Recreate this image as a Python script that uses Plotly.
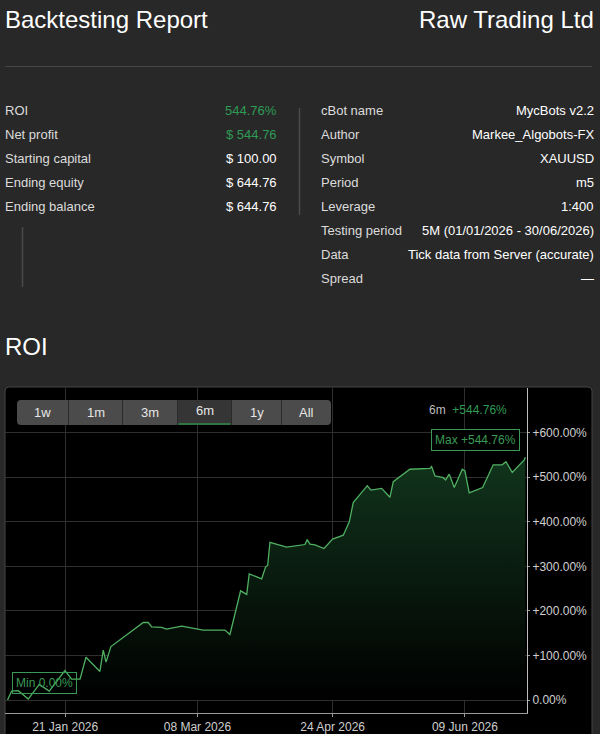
import plotly.graph_objects as go

W, H = 600, 734

# ---------------- data ----------------
dates = [
    "2026-01-01 00:00", "2026-01-01 05:00", "2026-01-02 10:00", "2026-01-04 17:00",
    "2026-01-08 04:00", "2026-01-12 00:00", "2026-01-15 11:00", "2026-01-20 22:00",
    "2026-01-23 06:00", "2026-01-26 04:00", "2026-01-28 06:00", "2026-02-02 02:00",
    "2026-02-03 06:00", "2026-02-04 05:00", "2026-02-05 22:00", "2026-02-17 04:00",
    "2026-02-18 21:00", "2026-02-20 02:00", "2026-02-23 13:00", "2026-02-25 07:00",
    "2026-03-02 12:00", "2026-03-10 00:00", "2026-03-17 13:00", "2026-03-19 07:00",
    "2026-03-23 00:00", "2026-03-25 03:00", "2026-03-26 00:00", "2026-03-30 08:00",
    "2026-03-31 17:00", "2026-04-01 10:00", "2026-04-02 05:00", "2026-04-08 00:00",
    "2026-04-14 09:00", "2026-04-15 04:00", "2026-04-16 03:00", "2026-04-17 21:00",
    "2026-04-21 00:00", "2026-04-24 00:00", "2026-04-27 17:00", "2026-04-29 19:00",
    "2026-05-01 04:00", "2026-05-03 12:00", "2026-05-06 01:00", "2026-05-07 08:00",
    "2026-05-11 01:00", "2026-05-13 22:00", "2026-05-15 02:00", "2026-05-20 21:00",
    "2026-05-27 20:00", "2026-05-28 10:00", "2026-05-29 14:00", "2026-06-01 11:00",
    "2026-06-02 07:00", "2026-06-03 13:00", "2026-06-05 07:00", "2026-06-08 02:00",
    "2026-06-09 00:00", "2026-06-10 12:00", "2026-06-15 04:00", "2026-06-18 20:00",
    "2026-06-21 23:00", "2026-06-23 06:00", "2026-06-25 11:00", "2026-06-29 15:00",
    "2026-06-30 00:00",
]
roi = [
    0.0, 4, 20, 21,
    2, 35, 20, 66,
    47, 47, 96, 64,
    112, 85, 120, 174,
    174, 164, 163, 159,
    166, 157, 157, 147,
    245, 237, 283, 272,
    299, 302, 354, 343,
    349, 360, 350, 348,
    340, 361, 370, 400,
    443, 462, 481, 471,
    475, 455, 490, 518,
    520, 524, 503, 499,
    494, 507, 477, 518,
    514, 465, 477, 528,
    528, 535, 511, 539,
    544.76,
]

y_ticks = [0, 100, 200, 300, 400, 500, 600]
y_ticklabels = ["0.00%", "+100.00%", "+200.00%", "+300.00%", "+400.00%", "+500.00%", "+600.00%"]
x_ticks = ["2026-01-21", "2026-03-08", "2026-04-24", "2026-06-09"]
x_ticklabels = ["21 Jan 2026", "08 Mar 2026", "24 Apr 2026", "09 Jun 2026"]

left_labels = ["ROI", "Net profit", "Starting capital", "Ending equity", "Ending balance"]
left_values = ["544.76%", "$ 544.76", "$ 100.00", "$ 644.76", "$ 644.76"]
left_green = [True, True, False, False, False]

right_labels = ["cBot name", "Author", "Symbol", "Period", "Leverage",
                "Testing period", "Data", "Spread"]
right_values = ["MycBots v2.2", "Markee_Algobots-FX", "XAUUSD", "m5", "1:400",
                "5M (01/01/2026 - 30/06/2026)", "Tick data from Server (accurate)", "—"]

range_buttons = ["1w", "1m", "3m", "6m", "1y", "All"]
active_button = "6m"

# ---------------- style ----------------
FONT = "Liberation Sans, Arial, sans-serif"
BG = "#282828"
GREEN_TXT = "#2f9a55"
LINE_GREEN = "#4fb062"
BOX_GREEN = "#3a9a55"


def px(x):
    return x / W


def py(y):
    return 1 - y / H


def rrect(x0, y0, x1, y1, r):
    a, b, c, d = px(x0), py(y0), px(x1), py(y1)
    rx, ry = r / W, r / H
    return (f"M {a+rx},{b} L {c-rx},{b} Q {c},{b} {c},{b-ry} "
            f"L {c},{d+ry} Q {c},{d} {c-rx},{d} L {a+rx},{d} "
            f"Q {a},{d} {a},{d+ry} L {a},{b-ry} Q {a},{b} {a+rx},{b} Z")


fig = go.Figure()
fig.add_trace(go.Scatter(
    x=dates, y=roi, mode="lines",
    line=dict(color=LINE_GREEN, width=1.3),
    fill="tozeroy",
    fillgradient=dict(type="vertical",
                      colorscale=[[0, "#000000"], [1, "#11341c"]]),
    hoverinfo="x+y",
    showlegend=False,
))

shapes = []
annotations = []

# header
annotations.append(dict(text="Backtesting Report", x=px(3), y=py(20), xanchor="left",
                        yanchor="middle", font=dict(size=24, color="#ffffff")))
annotations.append(dict(text="Raw Trading Ltd", x=px(596), y=py(20), xanchor="right",
                        yanchor="middle", font=dict(size=24, color="#ffffff")))
shapes.append(dict(type="line", x0=px(5), x1=px(592), y0=py(66.5), y1=py(66.5),
                   line=dict(color="#454545", width=1)))

# left stats
row0, dy = 110.5, 24
for i, (lab, val) in enumerate(zip(left_labels, left_values)):
    yy = py(row0 + i * dy)
    annotations.append(dict(text=lab, x=px(2.5), y=yy, xanchor="left", yanchor="middle",
                            font=dict(size=13, color="#dcdcdc")))
    annotations.append(dict(text=val, x=px(279), y=yy, xanchor="right", yanchor="middle",
                            font=dict(size=13, color=GREEN_TXT if left_green[i] else "#ffffff")))

# right stats
for i, (lab, val) in enumerate(zip(right_labels, right_values)):
    yy = py(row0 + i * dy)
    annotations.append(dict(text=lab, x=px(319), y=yy, xanchor="left", yanchor="middle",
                            font=dict(size=13, color="#dcdcdc")))
    annotations.append(dict(text=val, x=px(595.5), y=yy, xanchor="right", yanchor="middle",
                            font=dict(size=13, color="#ffffff")))

shapes.append(dict(type="line", x0=px(299.5), x1=px(299.5), y0=py(108), y1=py(215),
                   line=dict(color="#4a4a4a", width=1.5)))
shapes.append(dict(type="line", x0=px(22.5), x1=px(22.5), y0=py(227), y1=py(287),
                   line=dict(color="#4a4a4a", width=1.5)))

# section title
annotations.append(dict(text="ROI", x=px(2.5), y=py(346), xanchor="left", yanchor="middle",
                        font=dict(size=24, color="#ffffff")))

# chart panel
shapes.append(dict(type="path", path=rrect(5, 387, 592, 745, 4), layer="below",
                   fillcolor="#000000", line=dict(color="#444444", width=1)))

# range buttons
bx0, bx1, by0, by1 = 17, 331, 400, 425
edges = [17, 68.5, 122.5, 177.5, 231.5, 281.5, 331]
shapes.append(dict(type="path", path=rrect(bx0, by0, bx1, by1, 4),
                   fillcolor="#4b4b4b", line=dict(width=0)))
for i, lab in enumerate(range_buttons):
    l, r = edges[i], edges[i + 1]
    if lab == active_button:
        shapes.append(dict(type="rect", x0=px(l), x1=px(r), y0=py(by0), y1=py(by1),
                           fillcolor="#353535", line=dict(width=0)))
        shapes.append(dict(type="line", x0=px(l + 1), x1=px(r - 1), y0=py(by1 - 1),
                           y1=py(by1 - 1), line=dict(color="#2e8b4a", width=1.5)))
    if 0 < i:
        shapes.append(dict(type="line", x0=px(l), x1=px(l), y0=py(by0), y1=py(by1),
                           line=dict(color="#2a2a2a", width=1)))
    annotations.append(dict(text=lab, x=px((l + r) / 2),
                            y=py(410.5 if lab == active_button else 412.5),
                            xanchor="center", yanchor="middle",
                            font=dict(size=13, color="#e6e6e6")))

# period summary
vmax = max(roi)
vmin = min(roi)
annotations.append(dict(
    text=f"6m  <span style='color:{GREEN_TXT}'>+{vmax:.2f}%</span>",
    x=px(509), y=py(410), xanchor="right", yanchor="middle",
    font=dict(size=12, color="#bdbdbd")))

# max / min markers
annotations.append(dict(text=f"Max +{vmax:.2f}%", x=px(475), y=py(440), xanchor="center",
                        yanchor="middle", font=dict(size=12, color=BOX_GREEN),
                        bordercolor=BOX_GREEN, borderwidth=1, borderpad=3,
                        bgcolor="#000000"))
annotations.append(dict(text=f"Min {vmin:.2f}%", x=px(44.5), y=py(683), xanchor="center",
                        yanchor="middle", font=dict(size=12, color=BOX_GREEN),
                        bordercolor=BOX_GREEN, borderwidth=1, borderpad=3,
                        bgcolor="rgba(0,0,0,0)"))

for a in annotations:
    a.setdefault("xref", "paper")
    a.setdefault("yref", "paper")
    a.setdefault("showarrow", False)
for s in shapes:
    s.setdefault("xref", "paper")
    s.setdefault("yref", "paper")

# y axis scale: 0% at 700px, 44.55px per 100%
y_bottom_px, y_top_px = 712.5, 387.5
y_range = [(700 - y_bottom_px) / 0.4455, (700 - y_top_px) / 0.4455]

fig.update_layout(
    width=W, height=H, autosize=False,
    margin=dict(l=0, r=0, t=0, b=0),
    paper_bgcolor=BG,
    plot_bgcolor="rgba(0,0,0,0)",
    font=dict(family=FONT, color="#dcdcdc"),
    shapes=shapes,
    annotations=annotations,
    hovermode="x",
    xaxis=dict(
        domain=[px(5), px(527)],
        range=["2025-12-31 02:00", "2026-06-30 14:00"],
        type="date",
        tickvals=x_ticks, ticktext=x_ticklabels,
        tickfont=dict(size=12, color="#cfcfcf"),
        showgrid=True, gridcolor="#2f2f2f", gridwidth=1,
        showline=True, linecolor="#9a9a9a", linewidth=1,
        ticks="outside", ticklen=3, tickcolor="#9a9a9a",
        zeroline=False, fixedrange=True,
    ),
    yaxis=dict(
        domain=[py(y_bottom_px), py(y_top_px)],
        range=y_range,
        side="right",
        tickvals=y_ticks, ticktext=y_ticklabels,
        tickfont=dict(size=12, color="#cfcfcf"),
        showgrid=True, gridcolor="#2f2f2f", gridwidth=1,
        showline=True, linecolor="#bdbdbd", linewidth=1,
        ticks="outside", ticklen=2, tickcolor="#9a9a9a",
        zeroline=False, fixedrange=True,
    ),
)

fig.write_html("out.html", config={"displayModeBar": False})
